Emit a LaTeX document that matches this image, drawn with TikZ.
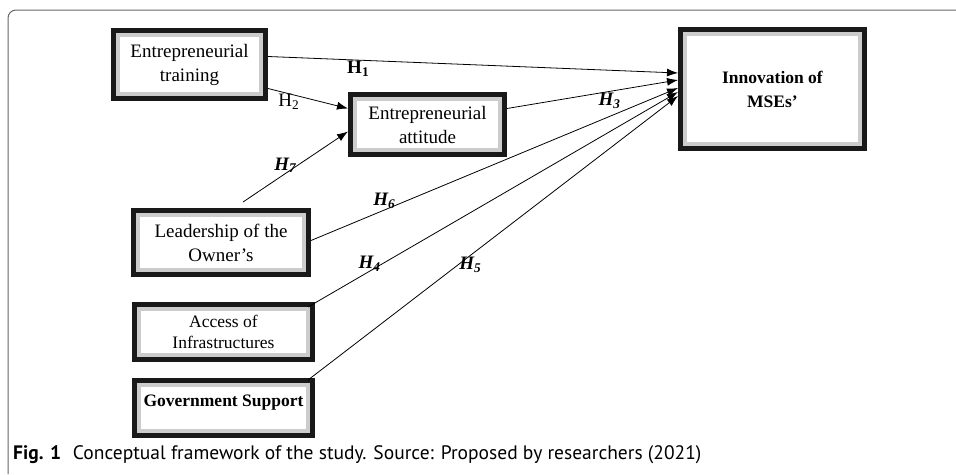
\documentclass[tikz,border=0pt]{standalone}
\usepackage{fontspec}
\setmainfont{Liberation Serif}
\newfontfamily\capfont{PT Sans}
\usetikzlibrary{arrows.meta}

\begin{document}
\begin{tikzpicture}[x=1pt,y=-1pt]
	\tikzstyle{every node}=[align=center]
	\tikzstyle{varbox}=[draw=gray!40, fill=white, line width=4pt, preaction={draw=black!90, line width=14pt}, outer sep=7pt, inner sep=0pt, font=\fontsize{19}{24}\selectfont]
	\tikzstyle{hyp}=[-{Latex[length=11pt,width=8pt]}, line width=0.8pt]
	\tikzstyle{hlab}=[font=\fontsize{19}{22}\selectfont\bfseries\itshape, inner sep=1pt]
	\useasboundingbox (0,0) rectangle (956,474);
	\draw[black!60, line width=1pt, rounded corners=8pt] (956,10) -- (8,10) -- (8,474);
	% variables
	\node[varbox, minimum width=143pt, minimum height=59pt] (train) at (189.5,64.5) {Entrepreneurial\\training};
	\node[varbox, minimum width=145pt, minimum height=51pt] (att) at (427.5,124.5) {Entrepreneurial\\attitude};
	\node[varbox, minimum width=175pt, minimum height=110pt, font=\fontsize{17.5}{24}\selectfont\bfseries] (innov) at (772.5,89) {Innovation of\\MSEs'};
	\node[varbox, minimum width=166pt, minimum height=55pt] (lead) at (221,242.5) {Leadership of the\\Owner's};
	\node[varbox, minimum width=169pt, minimum height=46pt, font=\fontsize{17.5}{21}\selectfont] (access) at (223.5,332) {Access of\\Infrastructures};
	\node[varbox, minimum width=169pt, minimum height=46pt, font=\fontsize{17.5}{21}\selectfont\bfseries, text depth=14pt] (gov) at (223.5,408) {Government Support};
	% hypotheses
	\draw[hyp] ([yshift=8pt]train.east) -- ([yshift=16pt]innov.west) node[hlab, pos=0.22, below, font=\fontsize{19}{22}\selectfont\bfseries] {H\textsubscript{1}};
	\draw[hyp] ([yshift=-24pt]train.east) -- ([yshift=16pt]att.west) node[hlab, pos=0.26, below, inner sep=0pt, font=\fontsize{19}{22}\selectfont] {H\textsubscript{2}};
	\draw[hyp] ([xshift=22pt,yshift=6pt]lead.north) -- ([yshift=-7pt]att.west) node[hlab, pos=0.52, left] {H\textsubscript{7}};
	\draw[hyp] ([yshift=16pt]att.east) -- ([yshift=9pt]innov.west) node[hlab, pos=0.6, below] {H\textsubscript{3}};
	\draw[hyp] ([yshift=2pt]lead.east) -- ([yshift=1pt]innov.west) node[hlab, pos=0.2, above] {H\textsubscript{6}};
	\draw[hyp] ([xshift=-7pt,yshift=-5pt]access.north east) -- ([yshift=-3pt]innov.west) node[hlab, pos=0.2, left] {H\textsubscript{4}};
	\draw[hyp] ([xshift=-7pt,yshift=-2pt]gov.north east) -- ([yshift=-7pt]innov.west) node[hlab, pos=0.405, right] {H\textsubscript{5}};
	% caption
	\node[anchor=base west, inner sep=0pt, font=\capfont\fontsize{19.5}{22}\selectfont] (cap) at (13,459) {\textbf{Fig. 1}\hspace{0.6em}Conceptual framework of the study. Source: Proposed by researchers (2021)};
\end{tikzpicture}
\end{document}
